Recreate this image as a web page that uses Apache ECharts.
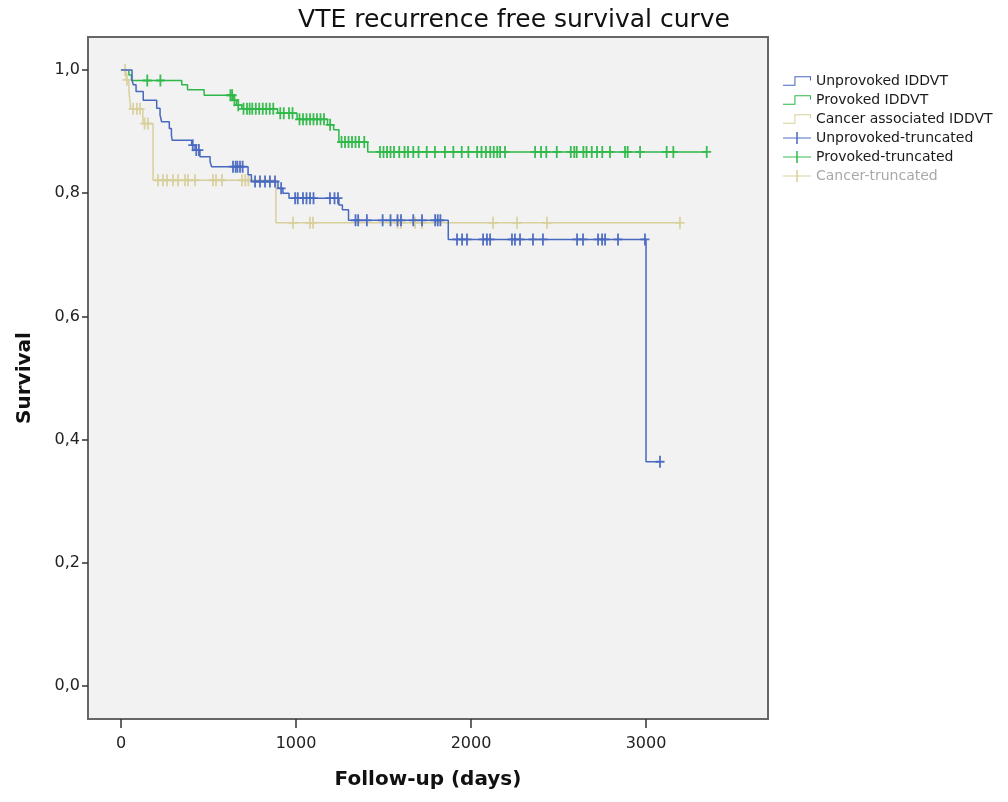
<!DOCTYPE html>
<html>
<head>
<meta charset="utf-8">
<script src="https://cdn.jsdelivr.net/npm/echarts@6/dist/echarts.min.js"></script>
<style>
html,body{margin:0;padding:0;background:#fff;}
#chart{width:1008px;height:802px;}
</style>
</head>
<body>
<div id="chart"></div>
<script>
// ---- data ----
const seriesNames = ['Unprovoked IDDVT','Provoked IDDVT','Cancer associated IDDVT'];
const censorNames = ['Unprovoked-truncated','Provoked-truncated','Cancer-truncated'];

// [day, survival after event]
const unprovokedSteps = [[0,1.0],[63,0.984],[70,0.976],[86,0.965],[127,0.951],[204,0.938],[223,0.927],[232,0.916],[276,0.905],[288,0.894],[292,0.886],[404,0.878],[423,0.870],[451,0.859],[509,0.851],[518,0.843],[726,0.830],[745,0.819],[897,0.808],[925,0.800],[960,0.792],[1245,0.781],[1265,0.773],[1300,0.756],[1870,0.725],[3000,0.364]];
const unprovokedCensored = [410,430,445,640,655,665,680,695,766,794,823,851,880,915,995,1010,1040,1060,1080,1100,1194,1220,1240,1340,1355,1405,1495,1540,1580,1600,1670,1720,1795,1810,1825,1920,1949,1977,2069,2091,2109,2234,2251,2280,2354,2411,2606,2640,2726,2749,2766,2840,2994,3080];

const provokedSteps = [[0,1.0],[45,0.992],[60,0.983],[347,0.976],[380,0.968],[475,0.959],[640,0.951],[660,0.943],[690,0.937],[895,0.930],[1006,0.920],[1180,0.911],[1215,0.903],[1245,0.883],[1410,0.867]];
const provokedCensored = [150,225,625,635,648,670,700,720,735,750,770,790,810,830,850,870,910,930,960,980,1020,1040,1060,1080,1100,1120,1140,1160,1195,1260,1280,1300,1320,1340,1360,1390,1480,1500,1520,1540,1560,1590,1620,1640,1670,1700,1747,1794,1851,1899,1947,1985,2035,2060,2085,2110,2130,2150,2166,2194,2366,2400,2430,2490,2570,2590,2604,2642,2660,2690,2720,2750,2794,2880,2895,2966,3118,3156,3347];

const cancerSteps = [[0,1.0],[30,0.984],[45,0.968],[55,0.937],[125,0.913],[183,0.821],[885,0.752]];
const cancerCensored = [23,34,69,91,109,135,154,211,240,263,297,326,366,383,423,526,543,577,691,710,728,983,1080,1097,1580,1600,1680,1720,2126,2263,2434,3194];

const xTicks = [0,1000,2000,3000];
const yTicks = [0,0.2,0.4,0.6,0.8,1.0];

const colors = ['#4868c0','#2eb848','#d8d09c'];

// ---- helpers ----
function survAt(steps, t){
  let s = steps[0][1];
  for (const p of steps){ if (p[0] <= t) s = p[1]; else break; }
  return s;
}
function lineData(steps, censored){
  const last = Math.max(censored[censored.length-1], steps[steps.length-1][0]);
  const d = steps.map(p => [p[0], p[1]]);
  d.push([last, survAt(steps, last)]);
  return d;
}
function censorData(steps, censored){
  return censored.map(t => [t, survAt(steps, t)]);
}

const stepIcon = 'path://M0,8 L11,8 L11,0 L27,0 L27,4 L26,4 L26,1 L12,1 L12,9 L0,9 Z';
const crossIcon = 'path://M0,5.4 L13.2,5.4 L13.2,0 L14.8,0 L14.8,5.4 L28,5.4 L28,6.6 L14.8,6.6 L14.8,12 L13.2,12 L13.2,6.6 L0,6.6 Z';
const plusSymbol = 'path://M3.6,0 L5.4,0 L5.4,5.1 L9,5.1 L9,6.9 L5.4,6.9 L5.4,12 L3.6,12 L3.6,6.9 L0,6.9 L0,5.1 L3.6,5.1 Z';

const stepsAll = [unprovokedSteps, provokedSteps, cancerSteps];
const censAll = [unprovokedCensored, provokedCensored, cancerCensored];

const series = [];
const order = [2,1,0];
order.forEach(i => {
  series.push({
    name: seriesNames[i], type: 'line', step: 'end',
    data: lineData(stepsAll[i], censAll[i]),
    showSymbol: false, symbol: 'none',
    lineStyle: {color: colors[i], width: 1.5},
    itemStyle: {color: colors[i]},
    animation: false, z: 2 + (2 - i)
  });
});
order.forEach(i => {
  series.push({
    name: censorNames[i], type: 'scatter',
    data: censorData(stepsAll[i], censAll[i]),
    symbol: plusSymbol, symbolSize: [9, 12],
    itemStyle: {color: colors[i], opacity: 0.95},
    animation: false, z: 3 + (2 - i)
  });
});

const legendData = [
  {name: seriesNames[0], icon: stepIcon},
  {name: seriesNames[1], icon: stepIcon},
  {name: seriesNames[2], icon: stepIcon},
  {name: censorNames[0], icon: crossIcon},
  {name: censorNames[1], icon: crossIcon},
  {name: censorNames[2], icon: crossIcon, textStyle: {color: '#a8a8a8'}}
];

const fontFam = '"DejaVu Sans", Verdana, sans-serif';

const option = {
  backgroundColor: '#ffffff',
  animation: false,
  title: {
    text: 'VTE recurrence free survival curve',
    left: 509, textAlign: 'center', top: 3,
    textStyle: {fontFamily: fontFam, fontSize: 25, fontWeight: 'normal', color: '#111'}
  },
  legend: {
    orient: 'vertical', left: 783, top: 74, padding: 0,
    itemWidth: 28, itemHeight: 12, itemGap: 5,
    textStyle: {fontFamily: fontFam, fontSize: 14, color: '#1a1a1a'},
    data: legendData,
    selectedMode: false
  },
  grid: {
    left: 88, right: 240, top: 37, bottom: 83,
    show: true, backgroundColor: '#f2f2f2', borderColor: '#666', borderWidth: 2,
    containLabel: false
  },
  xAxis: {
    type: 'value', min: -188.6, max: 3697,
    name: 'Follow-up (days)', nameLocation: 'middle', nameGap: 51,
    nameTextStyle: {fontFamily: fontFam, fontSize: 20, fontWeight: 'bold', color: '#111'},
    axisLine: {show: false, onZero: false},
    splitLine: {show: false},
    axisTick: {show: true, inside: false, length: 9, customValues: xTicks, lineStyle: {color: '#333', width: 1.5}},
    axisLabel: {
      customValues: xTicks, margin: 17, fontFamily: fontFam, fontSize: 16, color: '#222',
      formatter: v => String(v)
    }
  },
  yAxis: {
    type: 'value', min: -0.0536, max: 1.0536,
    name: 'Survival', nameLocation: 'middle', nameGap: 53,
    nameTextStyle: {fontFamily: fontFam, fontSize: 20, fontWeight: 'bold', color: '#111'},
    axisLine: {show: false, onZero: false},
    splitLine: {show: false},
    axisTick: {show: true, inside: false, length: 6, customValues: yTicks, lineStyle: {color: '#333', width: 1.5}},
    axisLabel: {
      customValues: yTicks, margin: 8, fontFamily: fontFam, fontSize: 16, color: '#222',
      formatter: v => v.toFixed(1).replace('.', ',')
    }
  },
  series: series
};

const chart = echarts.init(document.getElementById('chart'), null, {renderer: 'canvas'});
chart.setOption(option);
</script>
</body>
</html>
